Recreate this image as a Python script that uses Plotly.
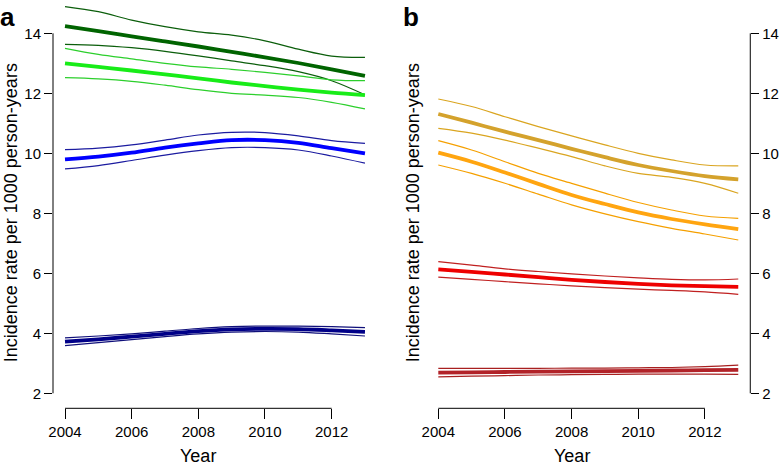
import plotly.graph_objects as go

years = [2004, 2005, 2006, 2007, 2008, 2009, 2010, 2011, 2012, 2013]
x_ticks = [2004, 2006, 2008, 2010, 2012]
y_ticks = [2, 4, 6, 8, 10, 12, 14]

# Panel a
dkgreen_mid = [14.24, 14.07, 13.90, 13.73, 13.56, 13.38, 13.20, 13.01, 12.80, 12.58]
dkgreen_hi = [14.89, 14.72, 14.44, 14.22, 14.05, 13.94, 13.75, 13.47, 13.24, 13.20]
dkgreen_lo = [13.63, 13.60, 13.52, 13.40, 13.25, 13.08, 12.92, 12.72, 12.42, 11.95]
ltgreen_mid = [13.00, 12.88, 12.76, 12.63, 12.50, 12.36, 12.24, 12.12, 12.02, 11.94]
ltgreen_hi = [13.50, 13.30, 13.15, 13.00, 12.88, 12.80, 12.70, 12.58, 12.45, 12.42]
ltgreen_lo = [12.52, 12.48, 12.40, 12.27, 12.12, 12.00, 11.94, 11.86, 11.70, 11.48]
blue_mid = [9.80, 9.89, 10.02, 10.19, 10.33, 10.44, 10.44, 10.35, 10.17, 10.00]
blue_hi = [10.12, 10.17, 10.28, 10.44, 10.61, 10.70, 10.69, 10.58, 10.42, 10.33]
blue_lo = [9.48, 9.59, 9.76, 9.94, 10.09, 10.19, 10.19, 10.11, 9.91, 9.67]
navy_mid = [3.72, 3.80, 3.89, 3.98, 4.07, 4.13, 4.15, 4.14, 4.10, 4.05]
navy_hi = [3.85, 3.91, 3.98, 4.07, 4.16, 4.22, 4.24, 4.24, 4.22, 4.19]
navy_lo = [3.59, 3.69, 3.79, 3.89, 3.98, 4.04, 4.06, 4.04, 3.98, 3.91]

# Panel b
gold_mid = [11.31, 11.02, 10.72, 10.44, 10.15, 9.87, 9.61, 9.41, 9.24, 9.13]
gold_hi = [11.81, 11.56, 11.22, 10.89, 10.58, 10.28, 10.00, 9.78, 9.61, 9.58]
gold_lo = [10.83, 10.67, 10.44, 10.17, 9.89, 9.58, 9.33, 9.20, 9.00, 8.67]
orange_mid = [10.02, 9.72, 9.36, 8.98, 8.61, 8.31, 8.03, 7.81, 7.63, 7.47]
orange_hi = [10.42, 10.11, 9.72, 9.33, 9.00, 8.67, 8.36, 8.11, 7.91, 7.83]
orange_lo = [9.61, 9.33, 9.00, 8.64, 8.28, 7.98, 7.72, 7.50, 7.31, 7.11]
red_mid = [6.13, 6.05, 5.96, 5.87, 5.78, 5.71, 5.65, 5.60, 5.57, 5.55]
red_hi = [6.39, 6.27, 6.15, 6.06, 5.98, 5.91, 5.85, 5.80, 5.78, 5.81]
red_lo = [5.87, 5.80, 5.72, 5.65, 5.58, 5.52, 5.47, 5.43, 5.38, 5.30]
dkred_mid = [2.69, 2.70, 2.71, 2.72, 2.73, 2.74, 2.75, 2.76, 2.77, 2.78]
dkred_hi = [2.83, 2.83, 2.83, 2.83, 2.84, 2.84, 2.85, 2.86, 2.89, 2.94]
dkred_lo = [2.55, 2.57, 2.59, 2.61, 2.62, 2.63, 2.64, 2.64, 2.64, 2.63]

W, H = 782, 467
FONT = "Liberation Sans, Arial, sans-serif"

groups_a = [
    (dkgreen_lo, dkgreen_mid, dkgreen_hi, "#006400", "#0b5e0b"),
    (ltgreen_lo, ltgreen_mid, ltgreen_hi, "#18ec18", "#2ccf2c"),
    (blue_lo, blue_mid, blue_hi, "#0000ff", "#1c1ca0"),
    (navy_lo, navy_mid, navy_hi, "#000088", "#10107a"),
]
groups_b = [
    (gold_lo, gold_mid, gold_hi, "#d4a22c", "#daa520"),
    (orange_lo, orange_mid, orange_hi, "#ffa510", "#f5a000"),
    (red_lo, red_mid, red_hi, "#ee0000", "#c02020"),
    (dkred_lo, dkred_mid, dkred_hi, "#b22228", "#a82020"),
]

fig = go.Figure()


def add_group(lo, mid, hi, cmain, cci, xa, ya):
    for arr in (lo, hi):
        fig.add_trace(go.Scatter(x=years, y=arr, mode="lines", xaxis=xa, yaxis=ya,
                                 line=dict(color=cci, width=1.2, shape="spline", smoothing=1.0),
                                 showlegend=False, hoverinfo="skip"))
    fig.add_trace(go.Scatter(x=years, y=mid, mode="lines", xaxis=xa, yaxis=ya,
                             line=dict(color=cmain, width=3.8, shape="spline", smoothing=1.0),
                             showlegend=False, hoverinfo="skip"))


for g in groups_a:
    add_group(*g, "x", "y")
for g in groups_b:
    add_group(*g, "x2", "y2")

# pixel layout helpers
px_per_year = 33.33
pad = 0.36
xrange_ = [years[0] - pad, years[-1] + pad]
left_l = 53.0
right_l = 426.3
span = (xrange_[1] - xrange_[0]) * px_per_year
yrange_ = [1.5, 15.0]
y_bottom_px = 408.3
y_top_px = 3.3

ydom = [(H - y_bottom_px) / H, (H - y_top_px) / H]

axis_common = dict(showgrid=False, zeroline=False, showline=False, ticks="outside",
                   tickcolor="black", tickwidth=1, color="black", automargin=False,
                   tickfont=dict(family=FONT, size=15, color="black"))

fig.update_layout(
    width=W, height=H,
    margin=dict(l=0, r=0, t=0, b=0, autoexpand=False),
    paper_bgcolor="white", plot_bgcolor="white",
    xaxis=dict(domain=[left_l / W, (left_l + span) / W], range=xrange_, anchor="y",
               tickvals=x_ticks, ticklen=10, **axis_common),
    yaxis=dict(domain=ydom, range=yrange_, anchor="x", side="left",
               tickvals=y_ticks, ticklen=8, **axis_common),
    xaxis2=dict(domain=[right_l / W, (right_l + span) / W], range=xrange_, anchor="y2",
                tickvals=x_ticks, ticklen=10, **axis_common),
    yaxis2=dict(domain=ydom, range=yrange_, anchor="x2", side="right",
                tickvals=y_ticks, ticklen=8, **axis_common),
)

# R-style axis lines spanning only the tick range
for xr, yr, side in (("x", "y", 0), ("x2", "y2", 1)):
    fig.add_shape(type="line", xref=xr + " domain", yref=yr, x0=side, x1=side,
                  y0=min(y_ticks), y1=max(y_ticks), line=dict(color="black", width=1))
    fig.add_shape(type="line", xref=xr, yref=yr + " domain", x0=min(x_ticks), x1=max(x_ticks),
                  y0=0, y1=0, line=dict(color="black", width=1))

ytitle = "Incidence rate per 1000 person-years"
for xr, yr, xpx in (("x", "y", 11), ("x2", "y2", 413)):
    fig.add_annotation(text=ytitle, xref="paper", yref=yr, x=xpx / W, y=8,
                       textangle=-90, showarrow=False, xanchor="center", yanchor="middle",
                       font=dict(family=FONT, size=18, color="black"))
    fig.add_annotation(text="Year", xref=xr, yref="paper", x=2008, y=(H - 456) / H,
                       showarrow=False, xanchor="center", yanchor="middle",
                       font=dict(family=FONT, size=18, color="black"))

for lab, xpx in (("a", -2), ("b", 401)):
    fig.add_annotation(text="<b>%s</b>" % lab, xref="paper", yref="paper", x=xpx / W,
                       y=(H - 17) / H, showarrow=False, xanchor="left", yanchor="middle",
                       font=dict(family=FONT, size=26, color="black"))

fig.write_html("out.html", config={"displayModeBar": False},
               post_script="document.body.style.margin='0';document.body.style.padding='0';"
                           "document.body.style.overflow='hidden';")
